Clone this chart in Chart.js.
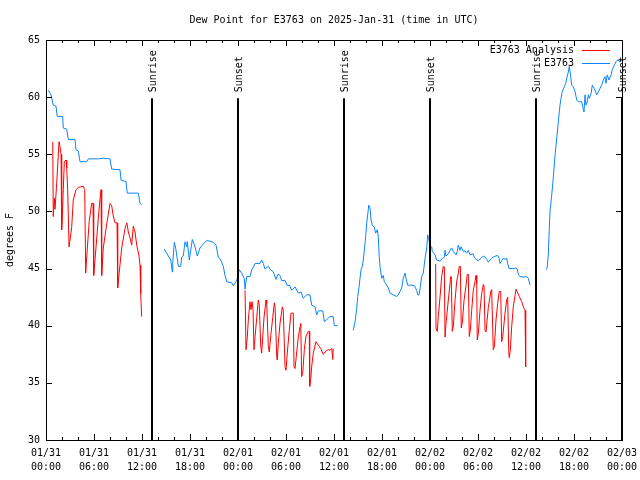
<!DOCTYPE html>
<html>
<head>
<meta charset="utf-8">
<script src="https://cdn.jsdelivr.net/npm/chart.js@4/dist/chart.umd.min.js"></script>
<style>
html,body{margin:0;padding:0;background:#fff;}
canvas{display:block;}
</style>
</head>
<body>
<canvas id="c" width="640" height="480"></canvas>
<script>
// ---- Data (hours since 2025-01-31 00:00 UTC) ----
const chartTitle = 'Dew Point for E3763 on 2025-Jan-31 (time in UTC)';
const yAxisTitle = 'degrees F';
const xTickDates = ['01/31','01/31','01/31','01/31','02/01','02/01','02/01','02/01','02/02','02/02','02/02','02/02','02/03'];
const xTickTimes = ['00:00','06:00','12:00','18:00','00:00','06:00','12:00','18:00','00:00','06:00','12:00','18:00','00:00'];

const sunEventHours = [13.31, 23.94, 37.19, 47.94, 61.19, 71.94];
const sunEventLabels = ['Sunrise','Sunset','Sunrise','Sunset','Sunrise','Sunset'];

// Observed dew point (E3763) - null marks a data gap
const obsHours = [
0.29,0.63,0.91,1.25,1.41,2.09,2.16,2.59,2.79,3.63,3.75,4.04,4.25,5.09,5.29,6.54,7.16,8.0,8.21,9.25,9.38,10.0,10.16,11.54,11.75,11.96,
13.4,
14.79,15.29,15.59,15.79,15.84,16.04,16.21,16.54,16.84,16.96,17.16,17.38,17.59,17.66,17.91,18.09,18.29,18.63,18.91,19.25,19.59,20.09,20.5,20.91,21.25,21.54,21.84,22.16,22.38,22.59,23.21,23.41,23.75,23.91,24.16,24.46,24.79,24.88,25.09,25.5,25.71,25.91,26.13,26.75,26.96,27.16,27.38,27.79,28.0,28.41,28.75,29.0,29.25,29.46,29.88,30.16,30.44,30.71,31.13,31.54,31.88,32.16,32.59,33.0,33.21,33.63,33.84,34.04,34.59,34.79,35.5,35.91,36.04,36.46,
37.4,
38.41,38.63,38.84,38.96,39.13,39.25,39.38,39.54,39.66,39.79,39.96,40.09,40.21,40.34,40.5,40.63,40.79,41.04,41.21,41.41,41.54,41.63,41.75,41.96,42.16,42.29,42.59,42.79,43.0,43.41,43.84,44.04,44.25,44.46,44.66,44.88,45.0,45.21,45.75,46.04,46.34,46.46,46.63,46.79,46.96,47.16,47.38,47.59,47.71,47.88,48.0,48.21,48.29,48.63,48.84,49.25,49.54,49.79,49.88,50.0,50.29,50.5,50.71,50.91,51.25,51.41,51.54,51.75,51.88,52.16,52.38,52.59,52.79,53.0,53.41,53.54,53.84,54.04,54.38,54.66,54.88,55.09,55.29,55.5,55.71,55.91,56.21,56.46,56.63,56.75,56.88,57.16,57.38,57.59,57.71,57.88,58.38,58.71,58.88,59.04,59.25,59.66,60.09,60.29,60.5,
61.5,
62.46,62.63,62.79,62.88,63.0,63.21,63.41,63.63,63.84,64.04,64.25,64.38,64.54,64.79,64.96,65.09,65.29,65.41,65.54,65.71,65.91,66.13,66.34,66.54,66.96,67.09,67.25,67.38,67.5,67.66,67.79,67.91,68.13,68.29,68.54,68.71,68.84,69.04,69.25,69.46,69.66,69.88,70.0,70.16,70.38,70.63,70.79,71.04,71.25,71.46,71.75,71.96
];
const obsValues = [
60.6,60.2,59.3,59.2,58.3,58.3,57.3,57.2,56.3,56.3,55.4,55.3,54.35,54.35,54.6,54.6,54.65,54.6,53.7,53.65,52.75,52.6,51.6,51.6,50.7,50.6,
null,
46.7,46.1,45.75,44.7,45.5,47.3,46.8,45.2,45.2,46.0,46.1,47.35,46.9,47.35,45.75,46.6,47.55,46.9,46.1,46.8,47.1,47.45,47.4,47.3,47.05,46.0,45.75,45.2,44.4,43.85,43.76,43.5,43.85,44.1,44.9,44.6,44.1,43.2,44.3,44.3,44.9,45.1,45.45,45.45,45.75,45.45,44.95,45.2,44.95,44.7,44.05,44.5,44.4,43.95,43.95,43.5,43.55,43.1,43.4,42.85,42.95,42.4,42.7,42.7,41.8,41.65,40.95,41.3,41.3,40.35,40.8,40.8,40.0,40.0,
null,
39.6,40.35,41.5,42.55,43.4,44.15,44.9,45.2,45.75,46.6,47.8,49.0,49.7,50.55,50.3,49.25,48.8,48.6,48.1,48.4,47.8,46.3,45.2,44.15,44.4,43.85,43.55,43.3,42.85,42.7,42.55,42.7,43.0,43.3,44.15,44.6,44.15,43.55,43.55,43.5,43.1,42.7,42.7,43.4,44.3,44.6,45.9,46.8,47.95,47.5,46.8,46.9,46.5,46.2,45.75,45.65,45.9,46.0,46.6,46.1,46.3,46.6,46.8,46.5,46.2,46.5,47.05,46.6,46.9,46.5,46.55,46.35,46.6,46.2,46.3,46.0,45.75,45.7,45.9,46.1,46.0,45.8,45.55,45.75,45.9,46.0,46.1,46.15,45.9,45.45,45.6,45.9,45.8,45.9,45.45,45.0,45.0,45.05,45.0,44.5,44.3,44.25,44.3,44.15,43.55,
null,
44.9,45.0,46.2,47.9,50.0,51.4,52.9,54.9,56.4,57.85,59.3,59.9,60.5,60.9,61.2,61.65,62.2,62.7,62.1,61.05,60.9,60.5,59.75,59.6,59.6,59.15,58.7,60.2,59.3,59.6,60.2,59.9,60.3,61.05,60.75,60.45,60.2,60.45,60.75,61.05,61.5,61.8,61.2,61.95,61.5,61.95,62.4,62.8,63.1,63.25,63.1,63.2
];

// Analysis dew point (E3763 Analysis) - null marks a data gap
const anaHours = [
0.84,0.91,1.04,1.13,1.34,1.5,1.63,1.75,1.88,1.96,2.04,2.16,2.29,2.5,2.59,2.71,2.88,3.0,3.21,3.41,3.75,4.04,4.66,4.84,4.96,5.09,5.41,5.71,5.88,5.96,6.13,6.54,6.75,6.88,6.96,7.16,7.59,8.0,8.21,8.41,8.63,8.88,8.96,9.16,9.46,9.88,10.09,10.16,10.29,10.5,10.71,10.91,11.13,11.34,11.63,11.75,11.84,11.96,
18.0,
24.88,25.0,25.16,25.29,25.5,25.63,25.75,25.88,26.0,26.13,26.34,26.54,26.66,26.84,26.96,27.09,27.25,27.5,27.59,27.79,27.91,28.09,28.34,28.54,28.63,28.84,28.91,29.04,29.25,29.54,29.66,29.88,30.0,30.16,30.41,30.63,30.91,31.0,31.13,31.34,31.54,31.75,31.84,31.96,32.09,32.29,32.5,32.79,32.91,32.96,33.09,33.21,33.41,33.75,34.04,34.34,34.66,35.0,35.29,35.5,35.71,35.84,35.91,
42.0,
48.71,48.75,48.91,49.04,49.25,49.46,49.66,49.79,49.88,50.0,50.29,50.59,50.66,50.79,50.91,51.13,51.34,51.54,51.66,51.79,51.91,52.04,52.25,52.5,52.66,52.79,52.91,53.04,53.21,53.41,53.63,53.75,53.84,53.91,54.04,54.25,54.46,54.66,54.75,54.88,55.0,55.29,55.63,55.71,55.91,56.04,56.25,56.46,56.66,56.84,56.96,57.09,57.38,57.59,57.71,57.84,57.91,58.04,58.21,58.41,58.63,58.75,58.91,59.16,59.46,59.75,59.88,59.96
];
const anaValues = [
56.1,49.55,51.15,50.2,52.5,54.5,56.1,55.65,55.0,48.4,49.5,51.9,54.35,54.5,53.8,51.9,46.9,47.5,48.6,51.0,51.9,52.1,52.2,51.9,44.6,46.0,49.2,50.7,50.7,44.4,45.8,49.4,51.1,51.9,44.4,46.8,48.9,50.7,50.5,49.6,49.0,49.0,43.3,44.7,46.8,48.5,49.0,48.8,48.2,47.7,47.05,48.7,48.2,47.05,46.1,45.3,42.8,40.8,
null,
43.1,37.9,39.0,40.5,42.1,41.4,42.1,41.4,37.9,39.0,40.7,42.25,41.8,38.2,37.6,39.0,40.7,42.25,41.95,38.2,37.7,39.1,40.7,42.0,41.7,37.3,37.0,38.5,40.2,41.65,41.35,36.4,36.1,37.6,39.6,41.1,41.1,36.4,36.25,37.7,39.0,39.9,40.2,35.55,35.85,37.9,39.1,39.5,39.5,34.7,35.3,36.4,37.6,38.6,38.3,38.0,37.5,37.8,37.9,37.85,38.0,37.05,38.0,
null,
45.4,39.8,39.5,40.8,42.5,44.3,45.2,45.15,39.0,40.2,42.25,44.3,44.3,39.5,39.9,42.2,43.9,44.6,45.2,45.2,39.8,40.25,42.2,43.5,44.5,44.5,39.05,39.6,41.35,43.1,43.85,44.4,43.7,38.75,39.3,41.35,42.8,43.6,43.55,39.6,39.45,41.6,43.1,43.15,37.9,38.15,40.5,41.95,43.0,43.0,38.6,39.05,41.1,42.25,42.5,37.8,37.2,37.85,39.9,41.65,42.65,43.2,42.95,42.55,42.1,41.5,41.35,36.4
];

const FONT = '"DejaVu Sans Mono", "Liberation Mono", monospace';
const toPoints = (xs, ys) => xs.map((x, i) => ({x: x, y: ys[i]}));

const gnuplotDecor = {
  id: 'gnuplotDecor',
  afterDatasetsDraw(chart) {
    const ctx = chart.ctx;
    const xs = chart.scales.x, ys = chart.scales.y;
    const a = chart.chartArea;
    ctx.save();
    ctx.strokeStyle = '#000';
    ctx.fillStyle = '#000';
    ctx.lineWidth = 1;
    // border box
    ctx.strokeRect(Math.round(a.left) + 0.5, Math.round(a.top) + 0.5,
                   Math.round(a.right - a.left), Math.round(a.bottom - a.top));
    ctx.beginPath();
    // x ticks (inward, mirrored), major each 6h, minor each 2h
    for (let h = xs.min; h <= xs.max + 1e-9; h += 2) {
      const px = Math.round(xs.getPixelForValue(h)) + 0.5;
      const len = (Math.abs(h % 6) < 1e-9) ? 6 : 3;
      ctx.moveTo(px, a.bottom); ctx.lineTo(px, a.bottom - len);
      ctx.moveTo(px, a.top); ctx.lineTo(px, a.top + len);
    }
    // y ticks (inward, mirrored)
    for (let v = ys.min; v <= ys.max + 1e-9; v += 5) {
      const py = Math.round(ys.getPixelForValue(v)) + 0.5;
      ctx.moveTo(a.left, py); ctx.lineTo(a.left + 6, py);
      ctx.moveTo(a.right, py); ctx.lineTo(a.right - 6, py);
    }
    ctx.stroke();

    // sunrise / sunset lines and labels
    ctx.lineWidth = 2;
    ctx.font = '10px ' + FONT;
    for (let i = 0; i < sunEventHours.length; i++) {
      const px = Math.round(xs.getPixelForValue(sunEventHours[i]));
      const yTop = ys.getPixelForValue(59.9);
      ctx.beginPath();
      ctx.moveTo(px, ys.getPixelForValue(ys.min));
      ctx.lineTo(px, yTop);
      ctx.stroke();
      ctx.save();
      ctx.translate(px + 1, yTop - 6);
      ctx.rotate(-Math.PI / 2);
      ctx.textAlign = 'left';
      ctx.textBaseline = 'middle';
      ctx.fillText(sunEventLabels[i], 0, 0);
      ctx.restore();
    }

    // legend (top-right, gnuplot style)
    ctx.lineWidth = 1;
    const ds = chart.data.datasets;
    ctx.textAlign = 'right';
    ctx.textBaseline = 'middle';
    for (let i = 0; i < ds.length; i++) {
      const ly = Math.round(a.top + 10 + i * 12.5) + 0.5;
      ctx.fillStyle = '#000';
      ctx.fillText(ds[i].label, a.right - 48, ly);
      ctx.strokeStyle = ds[i].borderColor;
      ctx.beginPath();
      ctx.moveTo(a.right - 40, ly);
      ctx.lineTo(a.right - 12, ly);
      ctx.stroke();
    }

    // title
    ctx.fillStyle = '#000';
    ctx.textAlign = 'center';
    ctx.textBaseline = 'middle';
    ctx.fillText(chartTitle, (a.left + a.right) / 2, 20);
    ctx.restore();
  }
};

new Chart(document.getElementById('c'), {
  type: 'line',
  data: {
    datasets: [
      { label: 'E3763 Analysis', data: toPoints(anaHours, anaValues),
        borderColor: '#ff0000', borderWidth: 1, pointRadius: 0, tension: 0, spanGaps: false, fill: false },
      { label: 'E3763', data: toPoints(obsHours, obsValues),
        borderColor: '#0a84ff', borderWidth: 1, pointRadius: 0, tension: 0, spanGaps: false, fill: false }
    ]
  },
  options: {
    responsive: false,
    animation: false,
    devicePixelRatio: 1,
    layout: { padding: { top: 40, right: 18, left: 0, bottom: 0 } },
    plugins: { legend: { display: false }, title: { display: false }, tooltip: { enabled: false } },
    scales: {
      x: {
        type: 'linear', min: 0, max: 72,
        grid: { display: false, drawTicks: false },
        border: { display: false },
        ticks: {
          stepSize: 6, autoSkip: false, maxRotation: 0, padding: 6,
          color: '#000', font: { family: FONT, size: 10, lineHeight: 1.4 },
          callback: (v) => { const i = Math.round(v / 6); return [xTickDates[i], xTickTimes[i]]; }
        },
        afterFit: (s) => { s.height = 40; s.paddingLeft = 0; s.paddingRight = 0; }
      },
      y: {
        min: 30, max: 65,
        grid: { display: false, drawTicks: false },
        border: { display: false },
        ticks: { stepSize: 5, padding: 6, color: '#000', font: { family: FONT, size: 10 } },
        title: { display: true, text: yAxisTitle, color: '#000', font: { family: FONT, size: 10 }, padding: { top: 4, bottom: 0 } },
        afterFit: (s) => { s.width = 46; s.paddingTop = 0; s.paddingBottom = 0; }
      }
    }
  },
  plugins: [gnuplotDecor]
});
</script>
</body>
</html>
